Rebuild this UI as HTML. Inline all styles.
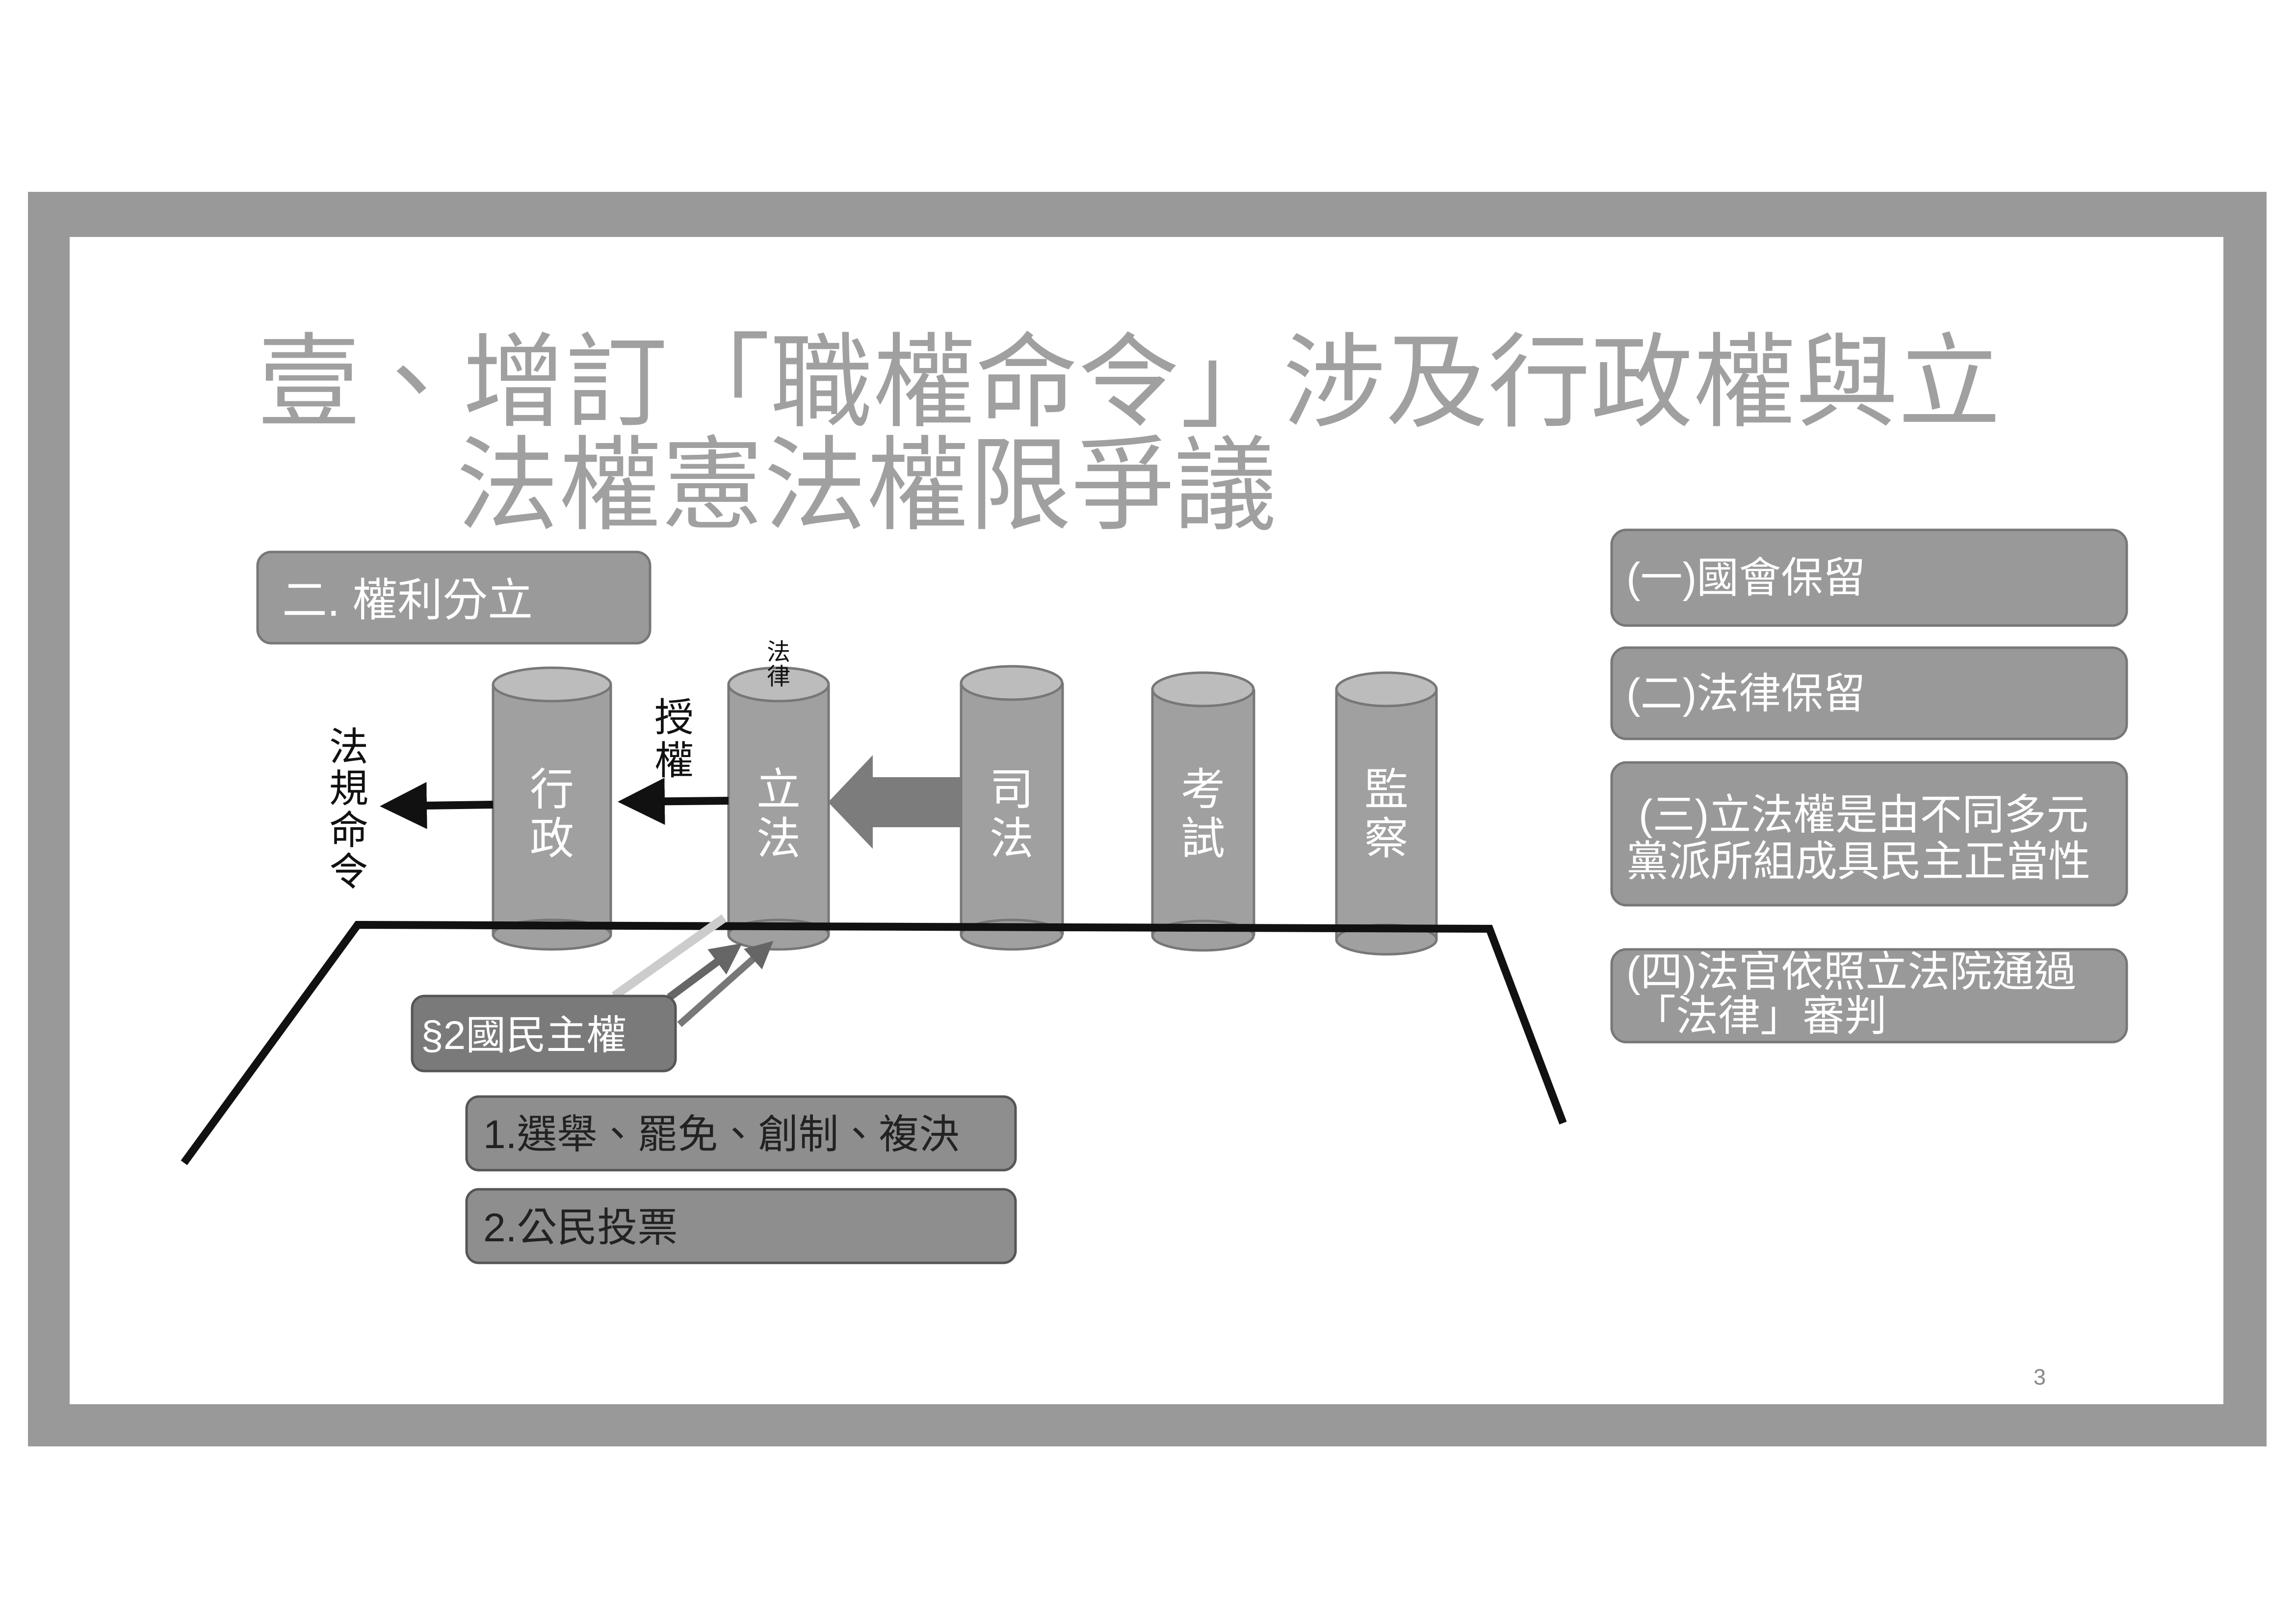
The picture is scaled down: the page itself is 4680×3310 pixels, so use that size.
<!DOCTYPE html>
<html><head><meta charset="utf-8"><style>
html,body{margin:0;padding:0;background:#fff;}
svg{display:block;}
text{font-family:"Liberation Sans","Noto Sans CJK TC",sans-serif;}
</style></head><body>
<svg width="4680" height="3310" viewBox="0 0 4680 3310" xmlns="http://www.w3.org/2000/svg">
<defs>
<marker id="ah" markerWidth="6" markerHeight="6" refX="5" refY="3" orient="auto" markerUnits="strokeWidth"><path d="M0,0 L6,3 L0,6 z" fill="#111"/></marker>
<marker id="ah2" markerWidth="4" markerHeight="4" refX="3" refY="2" orient="auto" markerUnits="strokeWidth"><path d="M0,0 L4,2 L0,4 z" fill="#666"/></marker>
</defs>
<rect x="0" y="0" width="4680" height="3310" fill="#fff"/>
<rect x="57" y="391" width="4563" height="2557" fill="#999"/>
<rect x="142" y="483" width="4390" height="2379" fill="#fff"/>

<g font-size="209" fill="#a0a0a0" style="font-family:'Liberation Serif','Noto Serif CJK SC',serif">
<text x="525" y="852">壹、增訂「職權命令」涉及行政權與立</text>
<text x="930" y="1062">法權憲法權限爭議</text>
</g>

<rect x="525" y="1125" width="800" height="186" rx="28" fill="#9a9a9a" stroke="#777" stroke-width="5"/>
<text x="575" y="1255" font-size="92" fill="#fff">二.  權利分立</text>

<!-- cylinders -->
<g stroke="#777" stroke-width="5">
<g>
<rect x="1005" y="1395" width="240" height="510" fill="#a0a0a0" stroke="none"/>
<ellipse cx="1125" cy="1905" rx="120" ry="30" fill="#a0a0a0"/>
<line x1="1005" y1="1395" x2="1005" y2="1905"/><line x1="1245" y1="1395" x2="1245" y2="1905"/>
<ellipse cx="1125" cy="1395" rx="120" ry="34" fill="#bcbcbc"/>
</g>
<g>
<rect x="1485" y="1395" width="204" height="510" fill="#a0a0a0" stroke="none"/>
<ellipse cx="1587" cy="1905" rx="102" ry="30" fill="#a0a0a0"/>
<line x1="1485" y1="1395" x2="1485" y2="1905"/><line x1="1689" y1="1395" x2="1689" y2="1905"/>
<ellipse cx="1587" cy="1395" rx="102" ry="34" fill="#bcbcbc"/>
</g>
<g>
<rect x="1959" y="1392" width="207" height="513" fill="#a0a0a0" stroke="none"/>
<ellipse cx="2062" cy="1905" rx="103" ry="30" fill="#a0a0a0"/>
<line x1="1959" y1="1392" x2="1959" y2="1905"/><line x1="2166" y1="1392" x2="2166" y2="1905"/>
<ellipse cx="2062" cy="1392" rx="103" ry="34" fill="#bcbcbc"/>
</g>
<g>
<rect x="2349" y="1405" width="207" height="502" fill="#a0a0a0" stroke="none"/>
<ellipse cx="2452" cy="1907" rx="103" ry="30" fill="#a0a0a0"/>
<line x1="2349" y1="1405" x2="2349" y2="1907"/><line x1="2556" y1="1405" x2="2556" y2="1907"/>
<ellipse cx="2452" cy="1405" rx="103" ry="34" fill="#bcbcbc"/>
</g>
<g>
<rect x="2724" y="1405" width="204" height="510" fill="#a0a0a0" stroke="none"/>
<ellipse cx="2826" cy="1915" rx="102" ry="30" fill="#a0a0a0"/>
<line x1="2724" y1="1405" x2="2724" y2="1915"/><line x1="2928" y1="1405" x2="2928" y2="1915"/>
<ellipse cx="2826" cy="1405" rx="102" ry="34" fill="#bcbcbc"/>
</g>
</g>
<g font-size="90" fill="#fff" text-anchor="middle">
<text x="1125" y="1640">行</text><text x="1125" y="1740">政</text>
<text x="1587" y="1640">立</text><text x="1587" y="1740">法</text>
<text x="2062" y="1640">司</text><text x="2062" y="1740">法</text>
<text x="2452" y="1640">考</text><text x="2452" y="1740">試</text>
<text x="2826" y="1640">監</text><text x="2826" y="1740">察</text>
</g>
<g font-size="48" fill="#111" text-anchor="middle">
<text x="1587" y="1345">法</text><text x="1587" y="1395">律</text>
</g>

<!-- big arrow from 司法 to 立法 -->
<path d="M1959,1584 L1779,1584 L1779,1539 L1688,1635 L1779,1730 L1779,1686 L1959,1686 Z" fill="#7c7c7c"/>

<!-- thin arrows -->
<line x1="1485" y1="1632" x2="1275" y2="1634" stroke="#111" stroke-width="16" marker-end="url(#ah)"/>
<line x1="1005" y1="1640" x2="790" y2="1643" stroke="#111" stroke-width="16" marker-end="url(#ah)"/>
<g font-size="80" fill="#111" text-anchor="middle">
<text x="1374" y="1490">授</text><text x="1374" y="1578">權</text>
<text x="711" y="1550">法</text><text x="711" y="1635">規</text><text x="711" y="1720">命</text><text x="711" y="1805">令</text>
</g>

<!-- platform lines -->
<polyline points="375,2370 729,1885 3036,1893 3186,2289" fill="none" stroke="#111" stroke-width="16"/>

<!-- arrows from §2 -->
<line x1="1252" y1="2030" x2="1476" y2="1871" stroke="#ccc" stroke-width="18"/>
<line x1="1364" y1="2033" x2="1500" y2="1932" stroke="#666" stroke-width="16" marker-end="url(#ah2)"/>
<line x1="1385" y1="2088" x2="1566" y2="1927" stroke="#777" stroke-width="14" marker-end="url(#ah2)"/>

<rect x="840" y="2030" width="537" height="153" rx="25" fill="#7a7a7a" stroke="#555" stroke-width="5"/>
<text x="858" y="2138" font-size="82" fill="#fff">§2國民主權</text>

<rect x="951" y="2235" width="1119" height="150" rx="25" fill="#8e8e8e" stroke="#555" stroke-width="5"/>
<text x="985" y="2340" font-size="82" fill="#222">1.選舉、罷免、創制、複決</text>
<rect x="951" y="2424" width="1119" height="150" rx="25" fill="#8e8e8e" stroke="#555" stroke-width="5"/>
<text x="985" y="2530" font-size="82" fill="#222">2.公民投票</text>

<!-- right boxes -->
<g fill="#999" stroke="#777" stroke-width="5">
<rect x="3285" y="1080" width="1050" height="195" rx="30"/>
<rect x="3285" y="1320" width="1050" height="186" rx="30"/>
<rect x="3285" y="1554" width="1050" height="291" rx="30"/>
<rect x="3285" y="1935" width="1050" height="189" rx="30"/>
</g>
<g font-size="86" fill="#fff">
<text x="3315" y="1207">(一)國會保留</text>
<text x="3315" y="1443">(二)法律保留</text>
<text x="3340" y="1690">(三)立法權是由不同多元</text>
<text x="3315" y="1785">黨派所組成具民主正當性</text>
<text x="3315" y="2010">(四)法官依照立法院通過</text>
<text x="3330" y="2100">「法律」審判</text>
</g>

<text x="4145" y="2822" font-size="45" fill="#888">3</text>
</svg>
</body></html>
